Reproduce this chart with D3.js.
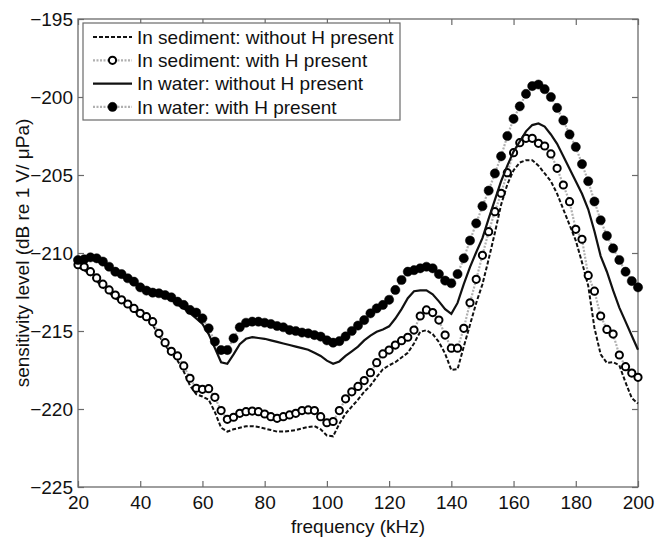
<!DOCTYPE html>
<html>
<head>
<script src="https://d3js.org/d3.v7.min.js"></script>
<style>
  body { margin: 0; background: #fff; }
  svg { font-family: "Liberation Sans", Arial, sans-serif; }
  .tick text { font-size: 19px; fill: #111; }
  .tick line { stroke: #6a6a6a; stroke-width: 1.2; }
</style>
</head>
<body>
<script>
// frequencies (kHz), one sample every 2 kHz
var freq = d3.range(20, 202, 2);

// In sediment: without H present (dashed)
var sedNoH = [-210.9, -211.1, -211.4, -211.8, -212.2, -212.55, -212.9, -213.15, -213.4, -213.7,
  -214.0, -214.25, -214.6, -215.3, -215.9, -216.45, -216.9, -217.6, -218.5, -219.05,
  -219.2, -219.4, -220.2, -221.2, -221.45, -221.3, -221.2, -221.1, -221.1, -221.15,
  -221.25, -221.35, -221.45, -221.45, -221.4, -221.35, -221.25, -221.15, -221.1, -221.3,
  -221.7, -221.75, -220.95, -220.3, -219.85, -219.4, -218.9, -218.5, -217.95, -217.45,
  -217.2, -217.0, -216.7, -216.4, -215.8, -215.05, -214.95, -215.2, -215.7, -216.45,
  -217.5, -217.45, -216.0, -214.6, -213.2, -212.0, -210.4, -208.7, -206.9, -205.6,
  -204.7, -204.2, -204.05, -204.05, -204.4, -204.9, -205.4, -206.2, -207.2, -208.2,
  -209.2, -210.6, -212.1, -214.8, -216.5, -217.05, -217.0, -217.2, -218.3, -219.3, -219.65];

// In sediment: with H present (open circles)
var sedH = [-210.75, -210.88, -211.2, -211.6, -212.0, -212.37, -212.7, -213.0, -213.27, -213.55,
  -213.87, -214.08, -214.4, -215.15, -215.75, -216.3, -216.6, -217.24, -218.03, -218.67,
  -218.74, -218.7, -219.25, -220.1, -220.66, -220.53, -220.28, -220.17, -220.13, -220.17,
  -220.32, -220.49, -220.6, -220.49, -220.38, -220.28, -220.1, -220.06, -220.1, -220.49,
  -220.88, -220.8, -220.1, -219.35, -218.9, -218.55, -218.18, -217.67, -217.03, -216.47,
  -216.22, -215.9, -215.62, -215.4, -214.94, -214.04, -213.65, -213.82, -214.3, -215.26,
  -216.1, -216.1, -214.83, -213.19, -211.69, -210.15, -208.63, -207.35, -206.17, -204.85,
  -203.57, -202.93, -202.65, -202.65, -202.97, -203.14, -203.65, -204.57, -205.64, -206.71,
  -208.48, -209.12, -211.44, -212.45, -214.04, -214.9, -215.2, -216.54, -217.29, -217.7, -217.97];

// In water: without H present (solid)
var watNoH = [-210.6, -210.5, -210.4, -210.5, -210.7, -211.0, -211.3, -211.5, -211.7, -211.95,
  -212.3, -212.5, -212.65, -212.7, -212.85, -213.0, -213.3, -213.55, -213.85, -214.2,
  -214.55, -215.2, -216.1, -217.0, -217.1, -216.5, -215.85, -215.5, -215.4, -215.45,
  -215.5, -215.6, -215.7, -215.8, -215.9, -216.0, -216.1, -216.2, -216.4, -216.6,
  -216.9, -217.1, -216.95, -216.6, -216.3, -216.0, -215.6, -215.3, -215.05, -214.9,
  -214.7, -214.2, -213.6, -212.9, -212.45, -212.4, -212.4, -212.65, -213.1, -213.6,
  -213.9, -213.2, -212.0, -210.9, -209.95, -209.05, -207.8, -206.6, -205.4, -204.4,
  -203.5, -202.85, -202.2, -201.8, -201.7, -201.9, -202.4, -203.0, -203.8, -204.6,
  -205.4, -206.2, -207.2, -208.6, -210.2, -211.2, -212.4, -213.5, -214.4, -215.3, -216.2];

// In water: with H present (filled circles)
var watH = [-210.45, -210.4, -210.28, -210.34, -210.55, -210.88, -211.2, -211.35, -211.62, -211.84,
  -212.2, -212.41, -212.54, -212.58, -212.7, -212.84, -213.12, -213.33, -213.65, -213.82,
  -214.19, -214.83, -215.68, -216.22, -216.22, -215.47, -214.76, -214.47, -214.4, -214.4,
  -214.47, -214.55, -214.68, -214.76, -214.94, -215.0, -215.1, -215.15, -215.26, -215.36,
  -215.6, -215.75, -215.65, -215.35, -215.0, -214.65, -214.3, -213.87, -213.55, -213.33,
  -213.0, -212.37, -211.73, -211.2, -211.1, -210.98, -210.88, -210.98, -211.35, -211.77,
  -211.94, -211.35, -210.34, -209.2, -208.1, -207.0, -206.0, -204.9, -203.8, -202.5,
  -201.4, -200.6, -199.8, -199.3, -199.2, -199.5, -200.0, -200.7, -201.5, -202.4,
  -203.2, -204.3, -205.4, -206.7, -207.9, -208.9, -209.7, -210.45, -211.2, -211.8, -212.2];

var seriesNames = ["In sediment: without H present", "In sediment: with H present",
  "In water: without H present", "In water: with H present"];

var xTicks = [20, 40, 60, 80, 100, 120, 140, 160, 180, 200];
var yTicks = [-225, -220, -215, -210, -205, -200, -195];

var width = 655, height = 538;
var margin = {top: 19, right: 17, bottom: 51, left: 78};
var plotW = width - margin.left - margin.right;
var plotH = height - margin.top - margin.bottom;

var svg = d3.select("body").append("svg")
  .attr("width", width)
  .attr("height", height);

var x = d3.scaleLinear().domain([20, 200]).range([margin.left, margin.left + plotW]);
var y = d3.scaleLinear().domain([-225, -195]).range([margin.top + plotH, margin.top]);

// styles for each series
var styles = [
  {values: sedNoH, stroke: "#111", width: 2, dash: "4,2", marker: null},
  {values: sedH, stroke: "#b0b0b0", width: 2.2, dash: "2,1.5", marker: "open"},
  {values: watNoH, stroke: "#111", width: 2.2, dash: null, marker: null},
  {values: watH, stroke: "#b0b0b0", width: 2.2, dash: "2,1.5", marker: "filled"}
];

// axes (MATLAB-like inward ticks on all four sides)
svg.append("g")
  .attr("transform", "translate(0," + (margin.top + plotH) + ")")
  .call(d3.axisBottom(x).tickValues(xTicks).tickSizeInner(-6).tickSizeOuter(0).tickPadding(9))
  .call(function(g) { g.select(".domain").remove(); });
svg.append("g")
  .attr("transform", "translate(0," + margin.top + ")")
  .call(d3.axisTop(x).tickValues(xTicks).tickSizeInner(-6).tickSizeOuter(0).tickFormat(""))
  .call(function(g) { g.select(".domain").remove(); });
svg.append("g")
  .attr("transform", "translate(" + margin.left + ",0)")
  .call(d3.axisLeft(y).tickValues(yTicks).tickSizeInner(-6).tickSizeOuter(0).tickPadding(5))
  .call(function(g) { g.select(".domain").remove(); });
svg.append("g")
  .attr("transform", "translate(" + (margin.left + plotW) + ",0)")
  .call(d3.axisRight(y).tickValues(yTicks).tickSizeInner(-6).tickSizeOuter(0).tickFormat(""))
  .call(function(g) { g.select(".domain").remove(); });

svg.selectAll(".tick text").attr("font-family", null).attr("font-size", null);

// box
svg.append("rect")
  .attr("x", margin.left).attr("y", margin.top)
  .attr("width", plotW).attr("height", plotH)
  .attr("fill", "none").attr("stroke", "#6a6a6a").attr("stroke-width", 1.3);

var line = d3.line()
  .x(function(d, i) { return x(freq[i]); })
  .y(function(d) { return y(d); });

function markerR(m) { return m == "filled" ? 4.6 : 3.6; }

styles.forEach(function(s) {
  svg.append("path")
    .attr("d", line(s.values))
    .attr("fill", "none")
    .attr("stroke", s.stroke)
    .attr("stroke-width", s.width)
    .attr("stroke-dasharray", s.dash);
  if (s.marker) {
    svg.append("g").selectAll("circle")
      .data(s.values)
      .enter().append("circle")
      .attr("cx", function(d, i) { return x(freq[i]); })
      .attr("cy", function(d) { return y(d); })
      .attr("r", markerR(s.marker))
      .attr("fill", s.marker == "filled" ? "#000" : "#fff")
      .attr("stroke", "#000")
      .attr("stroke-width", s.marker == "filled" ? 0.5 : 2);
  }
});

// legend
var legend = svg.append("g");
legend.append("rect")
  .attr("x", 83).attr("y", 23).attr("width", 317).attr("height", 97)
  .attr("fill", "#fff").attr("stroke", "#6a6a6a").attr("stroke-width", 1.2);

seriesNames.forEach(function(name, i) {
  var s = styles[i];
  var ly = 37 + i * 23.3;
  legend.append("line")
    .attr("x1", 93).attr("x2", 132).attr("y1", ly).attr("y2", ly)
    .attr("stroke", s.stroke).attr("stroke-width", s.width)
    .attr("stroke-dasharray", s.dash);
  if (s.marker) {
    legend.append("circle")
      .attr("cx", 112.5).attr("cy", ly)
      .attr("r", markerR(s.marker))
      .attr("fill", s.marker == "filled" ? "#000" : "#fff")
      .attr("stroke", "#000")
      .attr("stroke-width", s.marker == "filled" ? 0.5 : 2);
  }
  legend.append("text")
    .attr("x", 137).attr("y", ly).attr("dy", "0.35em")
    .attr("font-size", "19px").attr("fill", "#111")
    .text(name);
});

// axis titles
svg.append("text")
  .attr("x", margin.left + plotW / 2).attr("y", 526).attr("dy", "0.35em")
  .attr("text-anchor", "middle").attr("font-size", "19px").attr("fill", "#111")
  .text("frequency (kHz)");

svg.append("text")
  .attr("transform", "translate(22," + (margin.top + plotH / 2) + ") rotate(-90)")
  .attr("text-anchor", "middle").attr("dy", "0.35em")
  .attr("font-size", "19px").attr("fill", "#111")
  .text("sensitivity level (dB re 1 V/ μPa)");
</script>
</body>
</html>
